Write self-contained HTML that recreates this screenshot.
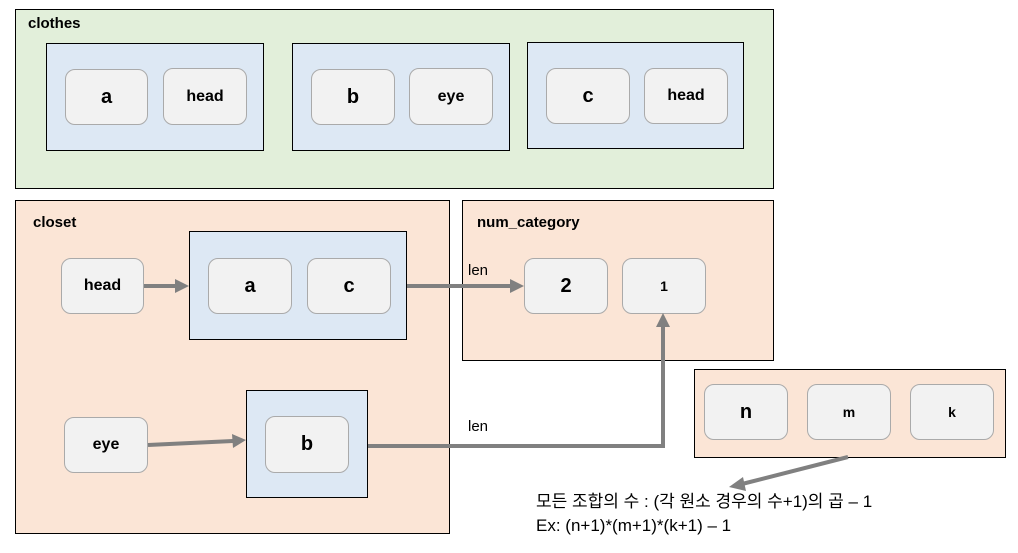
<!DOCTYPE html>
<html><head><meta charset="utf-8"><style>
body{margin:0;width:1018px;height:553px;background:#fff;position:relative;overflow:hidden;font-family:"Liberation Sans","Noto Sans CJK KR",sans-serif}
.b{position:absolute;box-sizing:border-box;border:1px solid #000}
.g{background:#e2efda}.p{background:#fbe5d6}.u{background:#dde8f4}
.n{position:absolute;box-sizing:border-box;border:1px solid #aaa;border-radius:10px;background:#f2f2f2;display:flex;align-items:center;justify-content:center;font-weight:bold;font-size:16px;color:#000}
.s{font-size:20px}
.l{position:absolute;font-weight:bold;font-size:15px}
.t{position:absolute;font-size:15px}
</style></head><body>
<div class="b g" style="left:15px;top:9px;width:759px;height:180px"></div>
<div class="l" style="left:28px;top:15px">clothes</div>
<div class="b u" style="left:46px;top:43px;width:218px;height:108px"></div>
<div class="b u" style="left:292px;top:43px;width:218px;height:108px"></div>
<div class="b u" style="left:527px;top:42px;width:217px;height:107px"></div>
<div class="n s" style="left:65px;top:69px;width:83px;height:56px">a</div>
<div class="n" style="left:163px;top:68px;width:84px;height:57px">head</div>
<div class="n s" style="left:311px;top:69px;width:84px;height:56px">b</div>
<div class="n" style="left:409px;top:68px;width:84px;height:57px">eye</div>
<div class="n s" style="left:546px;top:68px;width:84px;height:56px">c</div>
<div class="n" style="left:644px;top:68px;width:84px;height:56px">head</div>

<div class="b p" style="left:15px;top:200px;width:435px;height:334px"></div>
<div class="l" style="left:33px;top:214px">closet</div>
<div class="b u" style="left:189px;top:231px;width:218px;height:109px"></div>
<div class="b u" style="left:246px;top:390px;width:122px;height:108px"></div>
<div class="n" style="left:61px;top:258px;width:83px;height:56px">head</div>
<div class="n s" style="left:208px;top:258px;width:84px;height:56px">a</div>
<div class="n s" style="left:307px;top:258px;width:84px;height:56px">c</div>
<div class="n" style="left:64px;top:417px;width:84px;height:56px">eye</div>
<div class="n s" style="left:265px;top:416px;width:84px;height:57px">b</div>

<div class="b p" style="left:462px;top:200px;width:312px;height:161px"></div>
<div class="l" style="left:477px;top:214px">num_category</div>
<div class="n s" style="left:524px;top:258px;width:84px;height:56px">2</div>
<div class="n" style="left:622px;top:258px;width:84px;height:56px;font-size:14px">1</div>

<div class="b p" style="left:694px;top:369px;width:312px;height:89px"></div>
<div class="n s" style="left:704px;top:384px;width:84px;height:56px">n</div>
<div class="n" style="left:807px;top:384px;width:84px;height:56px;font-size:14px">m</div>
<div class="n" style="left:910px;top:384px;width:84px;height:56px;font-size:14px">k</div>

<div class="t" style="left:468px;top:262px">len</div>
<div class="t" style="left:468px;top:418px">len</div>

<svg width="1018" height="553" style="position:absolute;left:0;top:0">
<g stroke="#808080" stroke-width="4" fill="none">
<line x1="144" y1="286" x2="176" y2="286"/>
<line x1="407" y1="286" x2="511" y2="286"/>
<line x1="148" y1="445" x2="233" y2="441"/>
<polyline points="368,446 663,446 663,326"/>
<line x1="848" y1="457" x2="742" y2="484"/>
</g>
<g fill="#808080">
<polygon points="189,286 175,279 175,293"/>
<polygon points="524,286 510,279 510,293"/>
<polygon points="246,440 232,434 233,448"/>
<polygon points="663,313 656,327 670,327"/>
<polygon points="729,487 743,477 746,491"/>
</g>
</svg>
<div style="position:absolute;left:536px;top:490px;font-size:17px;line-height:24px;color:#000">모든 조합의 수 : (각 원소 경우의 수+1)의 곱 – 1<br>Ex: (n+1)*(m+1)*(k+1) – 1</div>
</body></html>
